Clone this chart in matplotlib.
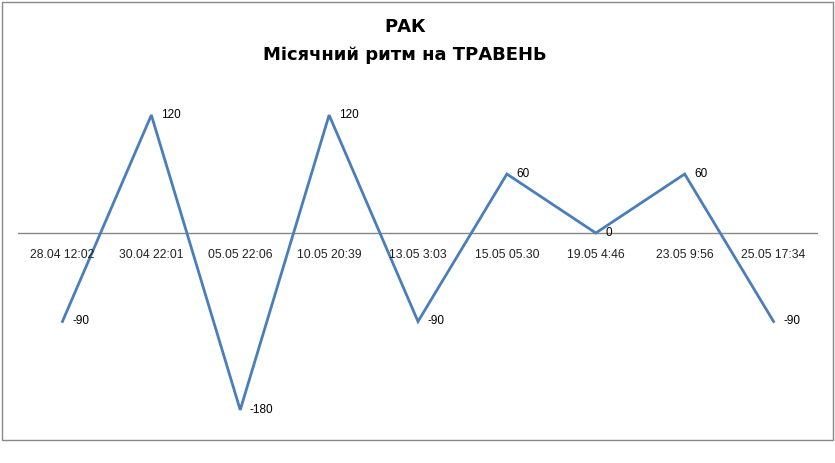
import matplotlib
matplotlib.use("Agg")
import matplotlib.pyplot as plt
from matplotlib.patches import Rectangle

categories = ["28.04 12:02", "30.04 22:01", "05.05 22:06", "10.05 20:39", "13.05 3:03",
              "15.05 05.30", "19.05 4:46", "23.05 9:56", "25.05 17:34"]
values = [-90, 120, -180, 120, -90, 60, 0, 60, -90]
title_lines = ["РАК", "Місячний ритм на ТРАВЕНЬ"]

W, H = 835, 463
fig = plt.figure(figsize=(W / 100, H / 100), dpi=100)
fig.patch.set_facecolor("white")

# outer chart border
fig.add_artist(Rectangle((2 / W, 1 - 440 / H), 831 / W, 438 / H, transform=fig.transFigure,
                         fill=False, edgecolor="#888888", linewidth=1.0))

ax = fig.add_axes([18 / W, 33.4 / H, 800 / W, 334.2 / H])
ax.set_xlim(-0.5, len(categories) - 0.5)
ax.set_ylim(-200, 140)
for s in ax.spines.values():
    s.set_visible(False)
ax.set_xticks([])
ax.set_yticks([])
ax.patch.set_alpha(0)

ax.axhline(0, color="#888888", linewidth=1.0, zorder=1)

x = list(range(len(categories)))
ax.plot(x, values, color="#4A7EBB", linewidth=2.0, zorder=3, solid_joinstyle="miter")

for xi, v in zip(x, values):
    ax.annotate(str(v), (xi, v), xytext=(7, 0), textcoords="offset points",
                ha="left", va="center", fontsize=8.5, family="Liberation Sans", color="black")

for xi, c in zip(x, categories):
    ax.annotate(c, (xi, 0), xytext=(0, -15.5), textcoords="offset points",
                ha="center", va="center", fontsize=8.7, family="Liberation Sans", color="#222222")

fig.text(405 / W, 1 - 26.5 / H, title_lines[0], ha="center", va="center",
         fontsize=13, fontweight="bold", family="DejaVu Sans")
fig.text(405 / W, 1 - 55 / H, title_lines[1], ha="center", va="center",
         fontsize=13, fontweight="bold", family="DejaVu Sans")

fig.savefig("out.png", dpi=100)
